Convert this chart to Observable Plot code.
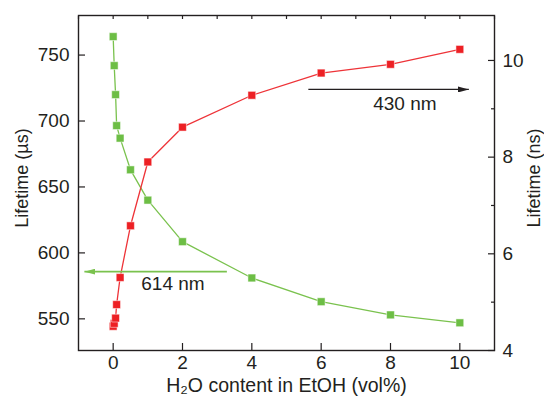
<!DOCTYPE html>
<html>
<head>
<meta charset="utf-8">
<script src="https://cdn.jsdelivr.net/npm/d3@7"></script>
<script src="https://cdn.jsdelivr.net/npm/@observablehq/plot@0.6"></script>
<style>
  html, body { margin: 0; padding: 0; background: #fff; }
  #chart svg { display: block; }
</style>
</head>
<body>
<div id="chart"></div>
<script>
// ---- data ----
const waterVol = [0, 0.03, 0.07, 0.1, 0.2, 0.5, 1, 2, 4, 6, 8, 10];
const lifetimeUs614 = [764, 742, 720, 696.5, 687, 663, 640, 608.5, 581, 563, 553, 547];
const lifetimeNs430 = [4.50, 4.56, 4.67, 4.95, 5.51, 6.58, 7.90, 8.62, 9.28, 9.74, 9.92, 10.23];

const xTicks = [0, 2, 4, 6, 8, 10];
const xMinorTicks = [-1, 0, 1, 2, 3, 4, 5, 6, 7, 8, 9, 10, 11];
const leftTicks = [550, 600, 650, 700, 750];
const rightTicks = [4, 6, 8, 10];
const rightMinorTicks = [5, 7, 9];

const xDomain = [-1, 11];
const leftDomain = [526, 780];
const rightDomain = [4, 10.93];

// annotations: arrows (x from -> to, y on own axis) and labels
const arrow614 = [{x1: 3.28, x2: -0.83, y: 585.8}];
const label614 = [{x: 0.81, y: 576.5, text: "614 nm"}];
const arrow430 = [{x1: 5.63, x2: 10.26, yNs: 9.40}];
const label430 = [{x: 7.50, yNs: 9.11, text: "430 nm"}];

// ---- styling ----
const ink = "#231f20";
const green = "#6dbe45";
const greenLine = "#7ac24e";
const red = "#ed2024";
const redLine = "#ee3338";
const font = "'Liberation Sans', Arial, Helvetica, sans-serif";

// right-axis values mapped into left-axis (µs) space
const toLeft = d3.scaleLinear(rightDomain, leftDomain);
const fromLeft = toLeft.copy().domain(leftDomain).range(rightDomain);

const rows = waterVol.map((x, i) => ({x, us: lifetimeUs614[i], ns: lifetimeNs430[i]}));

function filledArrow(color, context) {
  const ns = "http://www.w3.org/2000/svg";
  const doc = (context && context.document) || document;
  const m = doc.createElementNS(ns, "marker");
  m.setAttribute("viewBox", "0 -3 11 6");
  m.setAttribute("refX", "11");
  m.setAttribute("refY", "0");
  m.setAttribute("markerWidth", "11");
  m.setAttribute("markerHeight", "6");
  m.setAttribute("markerUnits", "userSpaceOnUse");
  m.setAttribute("orient", "auto");
  const p = doc.createElementNS(ns, "path");
  p.setAttribute("d", "M0,-3L11,0L0,3Z");
  p.setAttribute("fill", color);
  p.setAttribute("stroke", "none");
  m.appendChild(p);
  return m;
}

const chart = Plot.plot({
  width: 544,
  height: 401,
  marginLeft: 78,
  marginRight: 50,
  marginTop: 15,
  marginBottom: 51,
  style: {fontFamily: font, fontSize: "19px", color: ink, background: "#fff"},
  x: {domain: xDomain, label: null},
  y: {domain: leftDomain, label: null},
  marks: [
    // axes (ticks pointing inward)
    Plot.axisY({ticks: leftTicks, tickSize: -7, tickPadding: 16, label: null, stroke: ink, strokeWidth: 1.2, fill: ink}),
    Plot.axisY({anchor: "right", ticks: rightTicks.map(toLeft), tickFormat: d => String(Math.round(fromLeft(d))),
      tickSize: -7, tickPadding: 15, label: null, stroke: ink, strokeWidth: 1.2, fill: ink}),
    Plot.axisY({anchor: "right", ticks: rightMinorTicks.map(toLeft), tickFormat: () => "", tickSize: -4, label: null, stroke: ink, strokeWidth: 1.2}),
    Plot.axisX({ticks: xTicks, tickSize: -7, tickPadding: 12, label: null, stroke: ink, strokeWidth: 1.2, fill: ink}),
    Plot.axisX({anchor: "top", ticks: xMinorTicks, tickSize: -3, tickFormat: () => "", label: null, stroke: ink, strokeWidth: 1.2}),
    Plot.frame({stroke: ink, strokeWidth: 1.4}),

    // axis titles
    Plot.text(["Lifetime (µs)"], {frameAnchor: "left", dx: -56, dy: -5, rotate: -90, textAnchor: "middle", lineAnchor: "middle", fill: ink, fontSize: 18}),
    Plot.text(["Lifetime (ns)"], {frameAnchor: "right", dx: 40, dy: -5, rotate: -90, textAnchor: "middle", lineAnchor: "middle", fill: ink, fontSize: 18}),
    Plot.text(["H₂O content in EtOH (vol%)"], {frameAnchor: "bottom", dy: 35, textAnchor: "middle", lineAnchor: "middle", fill: ink, fontSize: 19.5}),

    // series
    Plot.line(rows, {x: "x", y: "us", stroke: greenLine, strokeWidth: 1.3}),
    Plot.line(rows, {x: "x", y: d => toLeft(d.ns), stroke: redLine, strokeWidth: 1.3}),
    Plot.dot(rows, {x: "x", y: "us", symbol: "square", r: 4.4, fill: green, stroke: "#ffffff", strokeOpacity: 0.7, strokeWidth: 0.7}),
    Plot.dot(rows, {x: "x", y: d => toLeft(d.ns), symbol: "square", r: 4.4, fill: red, stroke: "#ffffff", strokeOpacity: 0.7, strokeWidth: 0.7}),

    // annotations
    Plot.link(arrow614, {x1: "x1", x2: "x2", y1: "y", y2: "y", stroke: greenLine, strokeWidth: 1.6, markerEnd: filledArrow}),
    Plot.text(label614, {x: "x", y: "y", text: "text", textAnchor: "start", fill: ink, fontSize: 19}),
    Plot.link(arrow430, {x1: "x1", x2: "x2", y1: d => toLeft(d.yNs), y2: d => toLeft(d.yNs), stroke: ink, strokeWidth: 1.3, markerEnd: filledArrow}),
    Plot.text(label430, {x: "x", y: d => toLeft(d.yNs), text: "text", textAnchor: "start", fill: ink, fontSize: 19})
  ]
});

document.getElementById("chart").appendChild(chart);
</script>
</body>
</html>
